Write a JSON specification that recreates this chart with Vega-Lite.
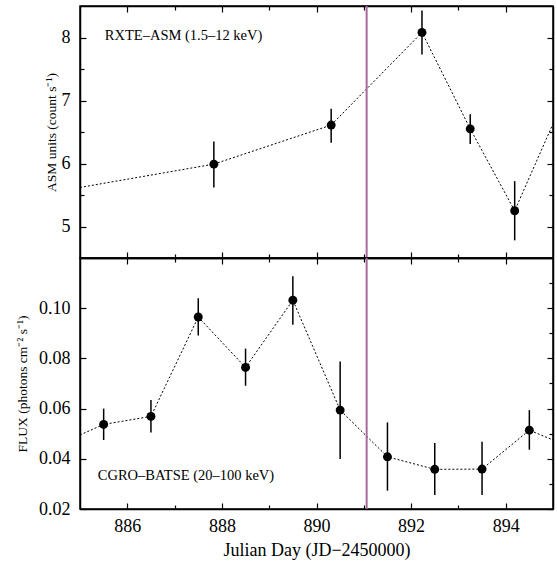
{
  "$schema": "https://vega.github.io/schema/vega-lite/v6.json",
  "padding": {"left": 14, "top": 4, "right": 2, "bottom": 2},
  "autosize": {"type": "pad"},
  "background": "white",
  "spacing": 0,
  "bounds": "flush",
  "config": {
    "font": "Liberation Serif",
    "view": {"stroke": "black", "strokeWidth": 1.5},
    "axis": {
      "domainColor": "black", "domainWidth": 1.5,
      "tickColor": "black", "tickWidth": 1.2, "tickSize": -5,
      "labelFont": "Liberation Serif", "labelFontSize": 18, "labelColor": "black",
      "labelPadding": 16,
      "titleFont": "Liberation Serif", "titleFontWeight": "normal", "titleColor": "black",
      "grid": false
    }
  },
  "datasets": {
    "asm": [
      {"day": 885, "val": 5.62, "lo": null, "hi": null, "edge": true},
      {"day": 887.83, "val": 5.99, "lo": 5.62, "hi": 6.35, "edge": false},
      {"day": 890.31, "val": 6.61, "lo": 6.33, "hi": 6.87, "edge": false},
      {"day": 892.23, "val": 8.08, "lo": 7.73, "hi": 8.43, "edge": false},
      {"day": 893.25, "val": 6.55, "lo": 6.31, "hi": 6.78, "edge": false},
      {"day": 894.19, "val": 5.25, "lo": 4.78, "hi": 5.72, "edge": false},
      {"day": 895, "val": 6.63, "lo": null, "hi": null, "edge": true}
    ],
    "batse": [
      {"day": 885, "val": 0.0495, "lo": null, "hi": null, "edge": true},
      {"day": 885.5, "val": 0.0537, "lo": 0.0475, "hi": 0.0600, "edge": false},
      {"day": 886.5, "val": 0.0569, "lo": 0.0505, "hi": 0.0634, "edge": false},
      {"day": 887.5, "val": 0.0965, "lo": 0.0891, "hi": 0.1040, "edge": false},
      {"day": 888.5, "val": 0.0764, "lo": 0.0691, "hi": 0.0839, "edge": false},
      {"day": 889.5, "val": 0.1032, "lo": 0.0934, "hi": 0.1127, "edge": false},
      {"day": 890.5, "val": 0.0594, "lo": 0.0399, "hi": 0.0788, "edge": false},
      {"day": 891.5, "val": 0.0408, "lo": 0.0273, "hi": 0.0545, "edge": false},
      {"day": 892.5, "val": 0.0358, "lo": 0.0256, "hi": 0.0463, "edge": false},
      {"day": 893.5, "val": 0.0359, "lo": 0.0256, "hi": 0.0468, "edge": false},
      {"day": 894.5, "val": 0.0514, "lo": 0.0436, "hi": 0.0594, "edge": false},
      {"day": 895, "val": 0.0475, "lo": null, "hi": null, "edge": true}
    ]
  },
  "vconcat": [
    {
      "width": 473, "height": 252,
      "data": {"name": "asm"},
      "layer": [
        {
          "layer": [
            {
              "mark": {"type": "line", "stroke": "black", "strokeWidth": 1, "strokeDash": [2, 2]},
              "encoding": {
                "x": {"field": "day", "type": "quantitative",
                  "scale": {"domain": [885, 895], "nice": false, "zero": false},
                  "axis": {"orient": "bottom", "values": [886, 887, 888, 889, 890, 891, 892, 893, 894], "labels": false, "title": null,
                    "tickSize": {"condition": {"test": "datum.value % 2 == 0", "value": -6}, "value": -4}}},
                "y": {"field": "val", "type": "quantitative",
                  "scale": {"domain": [4.5, 8.5], "nice": false, "zero": false},
                  "axis": {"orient": "left", "values": [5, 5.5, 6, 6.5, 7, 7.5, 8],
                    "labelExpr": "datum.value % 1 == 0 ? format(datum.value, 'd') : ''",
                    "tickSize": {"condition": {"test": "datum.value % 1 == 0", "value": -6}, "value": -4},
                    "title": "ASM units (count s⁻¹)", "titleFontSize": 13.5, "titlePadding": 3}}
              }
            },
            {
              "transform": [{"filter": "!datum.edge"}],
              "mark": {"type": "rule", "stroke": "black", "strokeWidth": 1.5},
              "encoding": {
                "x": {"field": "day", "type": "quantitative"},
                "y": {"field": "lo", "type": "quantitative", "title": "ASM units (count s⁻¹)"},
                "y2": {"field": "hi"}
              }
            },
            {
              "transform": [{"filter": "!datum.edge"}],
              "mark": {"type": "point", "filled": true, "shape": "circle", "size": 80, "color": "black", "opacity": 1},
              "encoding": {
                "x": {"field": "day", "type": "quantitative"},
                "y": {"field": "val", "type": "quantitative", "title": "ASM units (count s⁻¹)"}
              }
            },
            {
              "data": {"values": [{"day": 891.06}]},
              "mark": {"type": "rule", "stroke": "#a86a9c", "strokeWidth": 2},
              "encoding": {"x": {"field": "day", "type": "quantitative"}}
            }
          ]
        },
        {
          "data": {"values": [{"tx": 887.19, "ty": 8.02, "label": "RXTE–ASM (1.5–12 keV)"}]},
          "mark": {"type": "text", "font": "Liberation Serif", "fontSize": 14.5, "align": "center", "baseline": "middle", "color": "black"},
          "encoding": {
            "x": {"field": "tx", "type": "quantitative",
              "axis": {"orient": "top", "values": [886, 887, 888, 889, 890, 891, 892, 893, 894], "labels": false, "title": null,
                "tickSize": {"condition": {"test": "datum.value % 2 == 0", "value": -6}, "value": -4}}},
            "y": {"field": "ty", "type": "quantitative",
              "axis": {"orient": "right", "values": [5, 5.5, 6, 6.5, 7, 7.5, 8], "labels": false, "title": null,
                "tickSize": {"condition": {"test": "datum.value % 1 == 0", "value": -6}, "value": -4}}},
            "text": {"field": "label"}
          }
        }
      ],
      "resolve": {"axis": {"x": "independent", "y": "independent"}}
    },
    {
      "width": 473, "height": 251,
      "data": {"name": "batse"},
      "layer": [
        {
          "layer": [
            {
              "mark": {"type": "line", "stroke": "black", "strokeWidth": 1, "strokeDash": [2, 2]},
              "encoding": {
                "x": {"field": "day", "type": "quantitative",
                  "scale": {"domain": [885, 895], "nice": false, "zero": false},
                  "axis": {"orient": "bottom", "values": [886, 887, 888, 889, 890, 891, 892, 893, 894],
                    "labelExpr": "datum.value % 2 == 0 ? format(datum.value, 'd') : ''",
                    "tickSize": {"condition": {"test": "datum.value % 2 == 0", "value": -6}, "value": -4},
                    "labelPadding": 14,
                    "title": "Julian Day (JD−2450000)", "titleFontSize": 18, "titlePadding": 6}},
                "y": {"field": "val", "type": "quantitative",
                  "scale": {"domain": [0.02, 0.12], "nice": false, "zero": false},
                  "axis": {"orient": "left", "values": [0.02, 0.03, 0.04, 0.05, 0.06, 0.07, 0.08, 0.09, 0.10, 0.11],
                    "labelExpr": "round(datum.value * 100) % 2 == 0 ? format(datum.value, '.2f') : ''",
                    "tickSize": {"condition": {"test": "round(datum.value * 100) % 2 == 0", "value": -6}, "value": -4},
                    "title": "FLUX (photons cm⁻² s⁻¹)", "titleFontSize": 13.5, "titlePadding": 9}}
              }
            },
            {
              "transform": [{"filter": "!datum.edge"}],
              "mark": {"type": "rule", "stroke": "black", "strokeWidth": 1.5},
              "encoding": {
                "x": {"field": "day", "type": "quantitative"},
                "y": {"field": "lo", "type": "quantitative", "title": "FLUX (photons cm⁻² s⁻¹)"},
                "y2": {"field": "hi"}
              }
            },
            {
              "transform": [{"filter": "!datum.edge"}],
              "mark": {"type": "point", "filled": true, "shape": "circle", "size": 80, "color": "black", "opacity": 1},
              "encoding": {
                "x": {"field": "day", "type": "quantitative"},
                "y": {"field": "val", "type": "quantitative", "title": "FLUX (photons cm⁻² s⁻¹)"}
              }
            },
            {
              "data": {"values": [{"day": 891.06}]},
              "mark": {"type": "rule", "stroke": "#a86a9c", "strokeWidth": 2},
              "encoding": {"x": {"field": "day", "type": "quantitative"}}
            }
          ]
        },
        {
          "data": {"values": [{"tx": 887.24, "ty": 0.033, "label": "CGRO–BATSE (20–100 keV)"}]},
          "mark": {"type": "text", "font": "Liberation Serif", "fontSize": 14.5, "align": "center", "baseline": "middle", "color": "black"},
          "encoding": {
            "x": {"field": "tx", "type": "quantitative",
              "axis": {"orient": "top", "values": [886, 887, 888, 889, 890, 891, 892, 893, 894], "labels": false, "title": null,
                "tickSize": {"condition": {"test": "datum.value % 2 == 0", "value": -6}, "value": -4}}},
            "y": {"field": "ty", "type": "quantitative",
              "axis": {"orient": "right", "values": [0.02, 0.03, 0.04, 0.05, 0.06, 0.07, 0.08, 0.09, 0.10, 0.11], "labels": false, "title": null,
                "tickSize": {"condition": {"test": "round(datum.value * 100) % 2 == 0", "value": -6}, "value": -4}}},
            "text": {"field": "label"}
          }
        }
      ],
      "resolve": {"axis": {"x": "independent", "y": "independent"}}
    }
  ]
}
